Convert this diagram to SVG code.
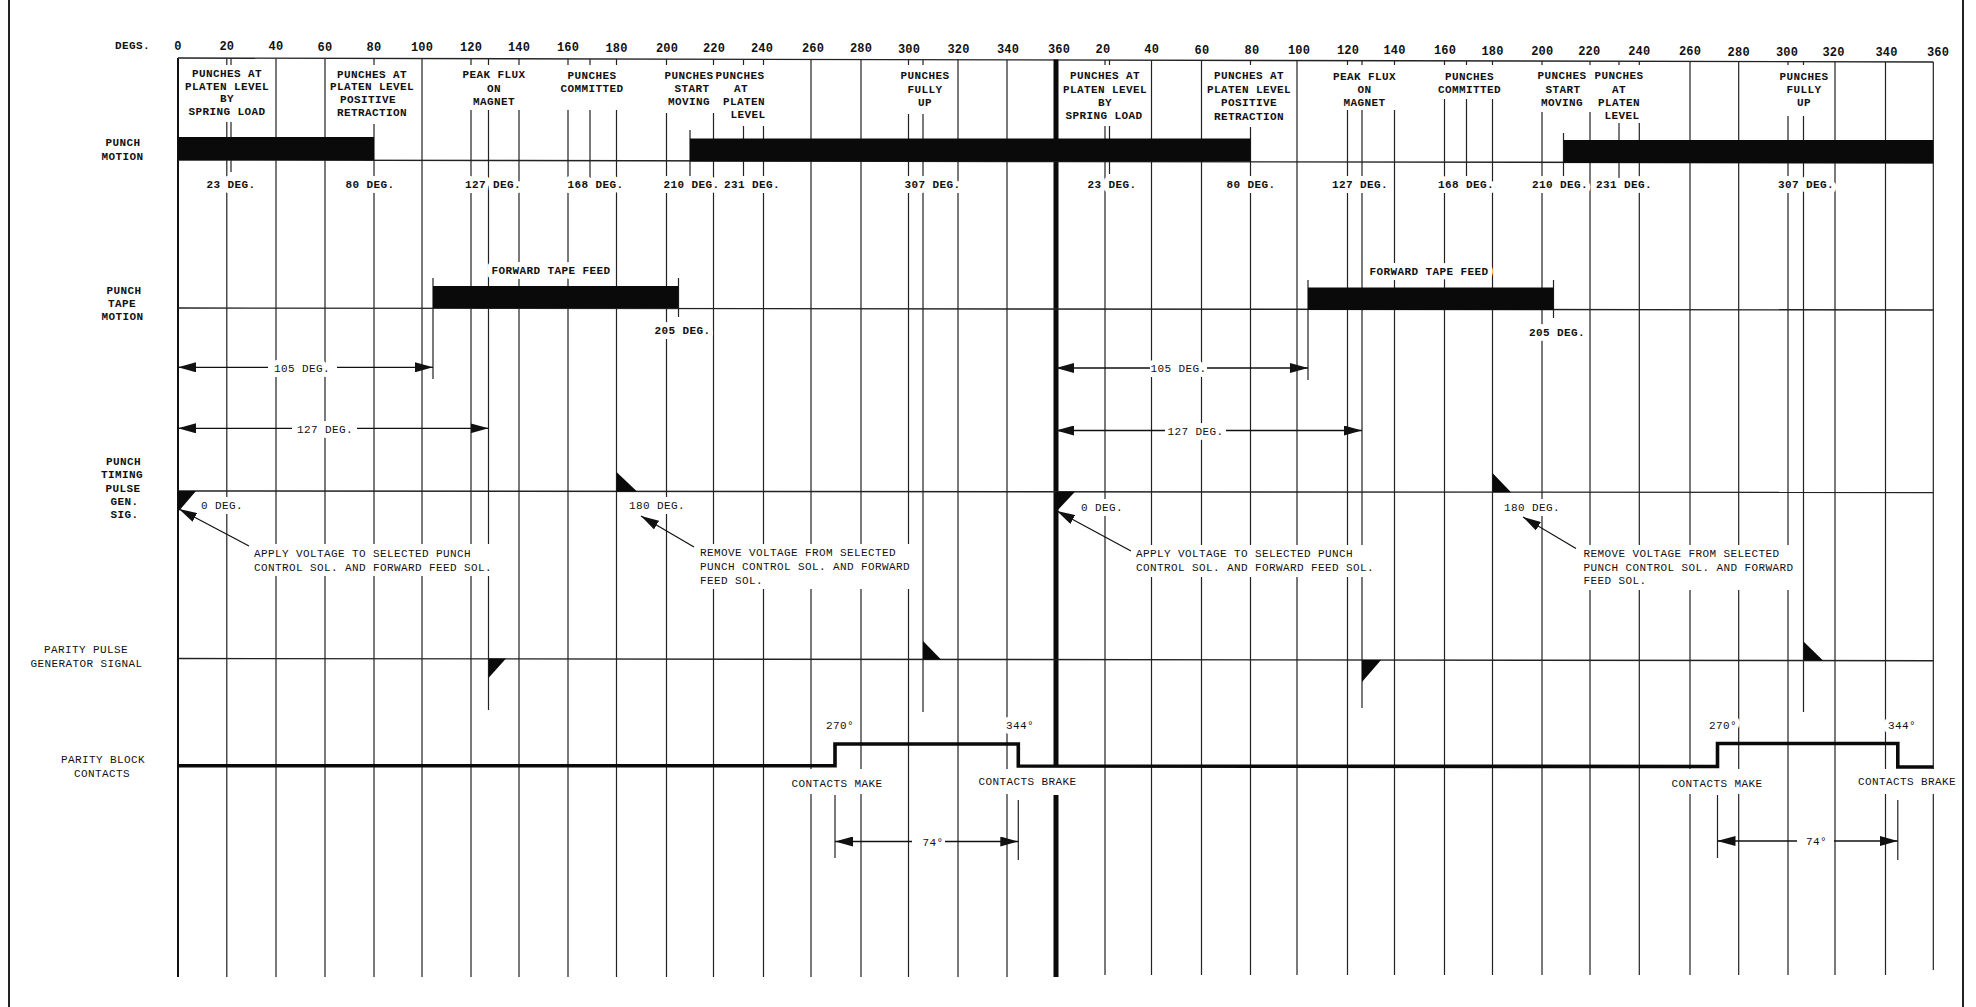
<svg xmlns="http://www.w3.org/2000/svg" width="1976" height="1007" viewBox="0 0 1976 1007">
<defs>
<marker id="ah" viewBox="0 0 18 10" refX="18" refY="5" markerWidth="18" markerHeight="10" markerUnits="userSpaceOnUse" orient="auto"><path d="M0,0 L18,5 L0,10 z" fill="#111"/></marker>
<style>
text{font-family:"Liberation Mono","DejaVu Sans Mono",monospace;font-size:11px;letter-spacing:0.4px;fill:#111}
.b{font-weight:bold}
.n{font-size:12px;font-weight:bold;letter-spacing:0.2px;text-anchor:middle}
.m{text-anchor:middle}
.h text,text.h{stroke:#fff;stroke-width:10px;stroke-linejoin:round;paint-order:stroke fill}
.grid{stroke:#222;stroke-width:1.2;fill:none}
.ax{stroke:#222;stroke-width:1.4;fill:none}
.bar{fill:#0a0a0a}
.sig{fill:#0a0a0a}
.ld{stroke:#111;stroke-width:1.2;fill:none;marker-end:url(#ah)}
.dim{stroke:#111;stroke-width:1.3;fill:none;marker-end:url(#ah)}
.cont{stroke:#0a0a0a;stroke-width:3.6;fill:none;stroke-linejoin:miter}
.gap{fill:#fff}
</style>
</defs>
<rect width="1976" height="1007" fill="#fff"/>

<g id="grid">
<path class="grid" d="M226.8 58.1V977M276 58.2V977M325 58.3V977M374 58.4V977M422 58.6V977M471 58.7V977M519 58.8V977M568 58.9V977M616.5 59V977M666.5 59.1V977M713.5 59.2V977M763.5 59.3V977M811 59.4V977M861 59.6V977M908.5 59.7V977M958 59.8V977M1007 59.9V977M1105 60.1V975M1151.5 60.2V975M1201.5 60.3V975M1250.5 60.4V975M1297 60.6V975M1347.5 60.7V975M1394.5 60.8V975M1444.5 60.9V975M1492.5 61V975M1542 61.1V975M1590 61.2V975M1639.3 61.3V975M1690 61.4V975M1738.7 61.5V975M1788 61.7V975M1835 61.8V975M1885.5 61.9V975M1933.3 62V970"/>
<path class="grid" d="M231 58.1V172M488.5 58.7V710M590 59V178M690 130V176M743.5 59.3V176M923 59.7V712M433 278V379M678.5 278V317M835 795V858M1018.3 800V860M1109.5 60.1V174M1362 60.7V708M1466.5 60.9V180M1563.5 133V178M1619 61.3V178M1803.5 61.7V712M1308 280V380M1553.5 280V318M1717.5 795V858M1897.8 800V860"/>
<path d="M178 58V977" stroke="#111" stroke-width="2" fill="none"/>
<path class="ax" d="M178 58L1933.3 62"/>
<path d="M1056 59.5V767M1056 795V977" stroke="#0a0a0a" stroke-width="5" fill="none"/>
<path d="M9 0V1007M1963 0V1007" stroke="#222" stroke-width="2" fill="none"/>
</g>

<g id="scale">
<text x="115" y="48.5" class="b">DEGS.</text>
<text class="n" x="178" y="50">0</text>
<text class="n" x="226.8" y="50.2">20</text>
<text class="n" x="276" y="50.3">40</text>
<text class="n" x="325" y="50.5">60</text>
<text class="n" x="374" y="50.7">80</text>
<text class="n" x="422" y="50.9">100</text>
<text class="n" x="471" y="51">120</text>
<text class="n" x="519" y="51.2">140</text>
<text class="n" x="568" y="51.4">160</text>
<text class="n" x="616.5" y="51.5">180</text>
<text class="n" x="667" y="51.7">200</text>
<text class="n" x="714" y="51.9">220</text>
<text class="n" x="762" y="52">240</text>
<text class="n" x="813" y="52.2">260</text>
<text class="n" x="861" y="52.4">280</text>
<text class="n" x="909" y="52.6">300</text>
<text class="n" x="958.5" y="52.7">320</text>
<text class="n" x="1008" y="52.9">340</text>
<text class="n" x="1059" y="53.1">360</text>
<text class="n" x="1103" y="53.2">20</text>
<text class="n" x="1151.7" y="53.4">40</text>
<text class="n" x="1202" y="53.6">60</text>
<text class="n" x="1252" y="53.8">80</text>
<text class="n" x="1299" y="53.9">100</text>
<text class="n" x="1348" y="54.1">120</text>
<text class="n" x="1394.5" y="54.3">140</text>
<text class="n" x="1445" y="54.4">160</text>
<text class="n" x="1492.5" y="54.6">180</text>
<text class="n" x="1542.3" y="54.8">200</text>
<text class="n" x="1589.3" y="54.9">220</text>
<text class="n" x="1639.3" y="55.1">240</text>
<text class="n" x="1690" y="55.3">260</text>
<text class="n" x="1738.7" y="55.5">280</text>
<text class="n" x="1787" y="55.6">300</text>
<text class="n" x="1833.5" y="55.8">320</text>
<text class="n" x="1886.5" y="56">340</text>
<text class="n" x="1938" y="56.2">360</text>
</g>

<g id="gaps">
<rect class="gap" x="183" y="65" width="88" height="57"/>
<rect class="gap" x="329" y="65" width="87" height="59"/>
<rect class="gap" x="459" y="65" width="70" height="45"/>
<rect class="gap" x="560" y="65" width="65" height="45"/>
<rect class="gap" x="660" y="65" width="56" height="48"/>
<rect class="gap" x="717" y="65" width="56" height="61"/>
<rect class="gap" x="899" y="65" width="52" height="49"/>
<rect class="gap" x="1061" y="65" width="88" height="61"/>
<rect class="gap" x="1205" y="65" width="88" height="62"/>
<rect class="gap" x="1330" y="65" width="70" height="45"/>
<rect class="gap" x="1437" y="65" width="66" height="34"/>
<rect class="gap" x="1535" y="65" width="57" height="47"/>
<rect class="gap" x="1593" y="65" width="56" height="58"/>
<rect class="gap" x="1776" y="65" width="56" height="51"/>
<rect class="gap" x="250" y="544" width="246" height="32"/>
<rect class="gap" x="696" y="544" width="219" height="45"/>
<rect class="gap" x="1132" y="545" width="246" height="32"/>
<rect class="gap" x="1580" y="545" width="220" height="45"/>
<rect class="gap" x="789" y="769" width="96" height="25"/>
<rect class="gap" x="976" y="769" width="103" height="25"/>
<rect class="gap" x="1669" y="769" width="96" height="25"/>
<rect class="gap" x="1857" y="769" width="100" height="25"/>
</g>

<g id="header-events">
<text class="m b" x="227" y="77">PUNCHES AT</text>
<text class="m b" x="227" y="89.7">PLATEN LEVEL</text>
<text class="m b" x="227" y="102.3">BY</text>
<text class="m b" x="227" y="115">SPRING LOAD</text>
<text class="m b" x="372" y="77.5">PUNCHES AT</text>
<text class="m b" x="372" y="90">PLATEN LEVEL</text>
<text class="m b" x="368" y="102.7">POSITIVE</text>
<text class="m b" x="372" y="115.5">RETRACTION</text>
<text class="m b" x="494" y="78.4">PEAK FLUX</text>
<text class="m b" x="494" y="91.7">ON</text>
<text class="m b" x="494" y="105">MAGNET</text>
<text class="m b" x="592" y="79.3">PUNCHES</text>
<text class="m b" x="592" y="92.3">COMMITTED</text>
<text class="m b" x="689" y="79.3">PUNCHES</text>
<text class="m b" x="692" y="92.3">START</text>
<text class="m b" x="689" y="105">MOVING</text>
<text class="m b" x="740" y="79.3">PUNCHES</text>
<text class="m b" x="741" y="92.3">AT</text>
<text class="m b" x="744" y="105">PLATEN</text>
<text class="m b" x="748" y="118.3">LEVEL</text>
<text class="m b" x="925" y="79.3">PUNCHES</text>
<text class="m b" x="925" y="92.7">FULLY</text>
<text class="m b" x="925" y="106">UP</text>
<text class="m b" x="1105" y="79.3">PUNCHES AT</text>
<text class="m b" x="1105" y="93">PLATEN LEVEL</text>
<text class="m b" x="1105" y="106">BY</text>
<text class="m b" x="1104" y="119.3">SPRING LOAD</text>
<text class="m b" x="1249" y="79.3">PUNCHES AT</text>
<text class="m b" x="1249" y="93">PLATEN LEVEL</text>
<text class="m b" x="1249" y="106">POSITIVE</text>
<text class="m b" x="1249" y="119.8">RETRACTION</text>
<text class="m b" x="1364.5" y="80">PEAK FLUX</text>
<text class="m b" x="1364.5" y="93.3">ON</text>
<text class="m b" x="1364.5" y="106.3">MAGNET</text>
<text class="m b" x="1469.5" y="80">PUNCHES</text>
<text class="m b" x="1469.5" y="93.3">COMMITTED</text>
<text class="m b" x="1562" y="79.3">PUNCHES</text>
<text class="m b" x="1563" y="92.7">START</text>
<text class="m b" x="1562" y="106">MOVING</text>
<text class="m b" x="1619" y="79.3">PUNCHES</text>
<text class="m b" x="1619" y="92.7">AT</text>
<text class="m b" x="1619" y="106">PLATEN</text>
<text class="m b" x="1622" y="119.3">LEVEL</text>
<text class="m b" x="1804" y="80">PUNCHES</text>
<text class="m b" x="1804" y="93.3">FULLY</text>
<text class="m b" x="1804" y="106.3">UP</text>
</g>

<g id="row-punch-motion">
<text class="m b" x="123" y="146">PUNCH</text>
<text class="m b" x="122.5" y="159.5">MOTION</text>
<path class="ax" d="M178 160L1056 161.5L1933.3 163"/>
<rect class="bar" x="178" y="137" width="196" height="23"/>
<rect class="bar" x="690" y="138.5" width="560.5" height="23"/>
<rect class="bar" x="1563.5" y="140" width="369.8" height="23"/>
<g class="h">
<text class="m b" x="231" y="188">23 DEG.</text>
<text class="m b" x="370" y="188">80 DEG.</text>
<text class="m b" x="493" y="188">127 DEG.</text>
<text class="m b" x="595.5" y="188">168 DEG.</text>
<text class="m b" x="691.5" y="188">210 DEG.</text>
<text class="m b" x="752" y="188">231 DEG.</text>
<text class="m b" x="932.5" y="188">307 DEG.</text>
<text class="m b" x="1112" y="188">23 DEG.</text>
<text class="m b" x="1251" y="188">80 DEG.</text>
<text class="m b" x="1360" y="188">127 DEG.</text>
<text class="m b" x="1466" y="188">168 DEG.</text>
<text class="m b" x="1560" y="188">210 DEG.</text>
<text class="m b" x="1624" y="188">231 DEG.</text>
<text class="m b" x="1806" y="188">307 DEG.</text>
</g>
</g>

<g id="row-punch-tape-motion">
<text class="m b" x="124" y="293.5">PUNCH</text>
<text class="m b" x="122" y="307">TAPE</text>
<text class="m b" x="122.5" y="320">MOTION</text>
<path class="ax" d="M178 308L1933.3 310"/>
<rect class="bar" x="433" y="286" width="245.5" height="22"/>
<rect class="bar" x="1308" y="287.5" width="245.5" height="22.5"/>
<g class="h">
<text class="m b" x="551" y="274">FORWARD TAPE FEED</text>
<text class="m b" x="1429" y="275">FORWARD TAPE FEED</text>
<text class="m b" x="682.5" y="333.5">205 DEG.</text>
<text class="m b" x="1557" y="335.5">205 DEG.</text>
<text class="m" x="302" y="371.5">105 DEG.</text>
<text class="m" x="325" y="432.5">127 DEG.</text>
<text class="m" x="1178.5" y="372.2">105 DEG.</text>
<text class="m" x="1195.5" y="434.7">127 DEG.</text>
</g>
</g>

<g id="row-punch-timing-pulse">
<text class="m b" x="123.5" y="465">PUNCH</text>
<text class="m b" x="122" y="478.3">TIMING</text>
<text class="m b" x="123" y="491.7">PULSE</text>
<text class="m b" x="124.5" y="505">GEN.</text>
<text class="m b" x="124.5" y="518.3">SIG.</text>
<path class="ax" d="M178 491L1933.3 492.5"/>
<polygon class="sig" points="178,491 196,491 178,512"/>
<polygon class="sig" points="616.5,472 616.5,491.5 637,491.5"/>
<polygon class="sig" points="1056,491.7 1075,491.7 1056,512"/>
<polygon class="sig" points="1492.5,473 1492.5,492.2 1511,492.2"/>
<g class="h">
<text x="201" y="509.3">0 DEG.</text>
<text x="629" y="509.3">180 DEG.</text>
<text x="1081" y="510.5">0 DEG.</text>
<text x="1504" y="511">180 DEG.</text>
<text x="254" y="556.5">APPLY VOLTAGE TO SELECTED PUNCH</text>
<text x="254" y="570.5">CONTROL SOL. AND FORWARD FEED SOL.</text>
<text x="700" y="556">REMOVE VOLTAGE FROM SELECTED</text>
<text x="700" y="570">PUNCH CONTROL SOL. AND FORWARD</text>
<text x="700" y="583.5">FEED SOL.</text>
<text x="1136" y="556.7">APPLY VOLTAGE TO SELECTED PUNCH</text>
<text x="1136" y="570.7">CONTROL SOL. AND FORWARD FEED SOL.</text>
<text x="1583.5" y="556.7">REMOVE VOLTAGE FROM SELECTED</text>
<text x="1583.5" y="570.7">PUNCH CONTROL SOL. AND FORWARD</text>
<text x="1583.5" y="584">FEED SOL.</text>
</g>
</g>

<g id="row-parity-pulse">
<text class="m" x="86" y="653.3">PARITY PULSE</text>
<text class="m" x="86.6" y="666.7">GENERATOR SIGNAL</text>
<path class="ax" d="M178 658.5L1933.3 660.7"/>
<polygon class="sig" points="488.5,658.5 506,658.5 488.5,678"/>
<polygon class="sig" points="923,641 923,659.5 941,659.5"/>
<polygon class="sig" points="1362,660 1381,660 1362,682"/>
<polygon class="sig" points="1803.5,641.5 1803.5,660.5 1823,660.5"/>
</g>

<g id="row-parity-block-contacts">
<text class="m" x="103" y="763.3">PARITY BLOCK</text>
<text class="m" x="102" y="776.7">CONTACTS</text>
<polyline class="cont" points="178,765.7 835,765.7 835,744 1018.3,744 1018.3,766 1717.5,766.5 1717.5,743.5 1897.8,743.5 1897.8,767 1933.3,767"/>
<g class="h">
<text x="826" y="729.3">270°</text>
<text x="1006" y="729.3">344°</text>
<text x="1709" y="729.3">270°</text>
<text x="1888" y="729.3">344°</text>
<text class="m" x="837" y="786.5">CONTACTS MAKE</text>
<text class="m" x="1027.5" y="785">CONTACTS BRAKE</text>
<text class="m" x="1717" y="786.5">CONTACTS MAKE</text>
<text class="m" x="1907" y="785">CONTACTS BRAKE</text>
<text x="922.5" y="845.5">74°</text>
<text x="1806" y="845">74°</text>
</g>
</g>

<g id="connectors">
<path class="dim" d="M268 367.3H178"/>
<path class="dim" d="M337 367.3H433"/>
<path class="dim" d="M292 428.3H178"/>
<path class="dim" d="M357 428.3H488.5"/>
<path class="dim" d="M1150 368H1056"/>
<path class="dim" d="M1207 368H1308"/>
<path class="dim" d="M1165 430.5H1056"/>
<path class="dim" d="M1226 430.5H1362"/>
<path class="dim" d="M912 841.5H835"/>
<path class="dim" d="M945 841.5H1018.3"/>
<path class="dim" d="M1797 841H1717.5"/>
<path class="dim" d="M1834 841H1897.8"/>
<path class="ld" d="M249 546L179 509"/>
<path class="ld" d="M694 547L641 516"/>
<path class="ld" d="M1131 551L1057 511"/>
<path class="ld" d="M1576 548.5L1523 517"/>
</g>
</svg>
